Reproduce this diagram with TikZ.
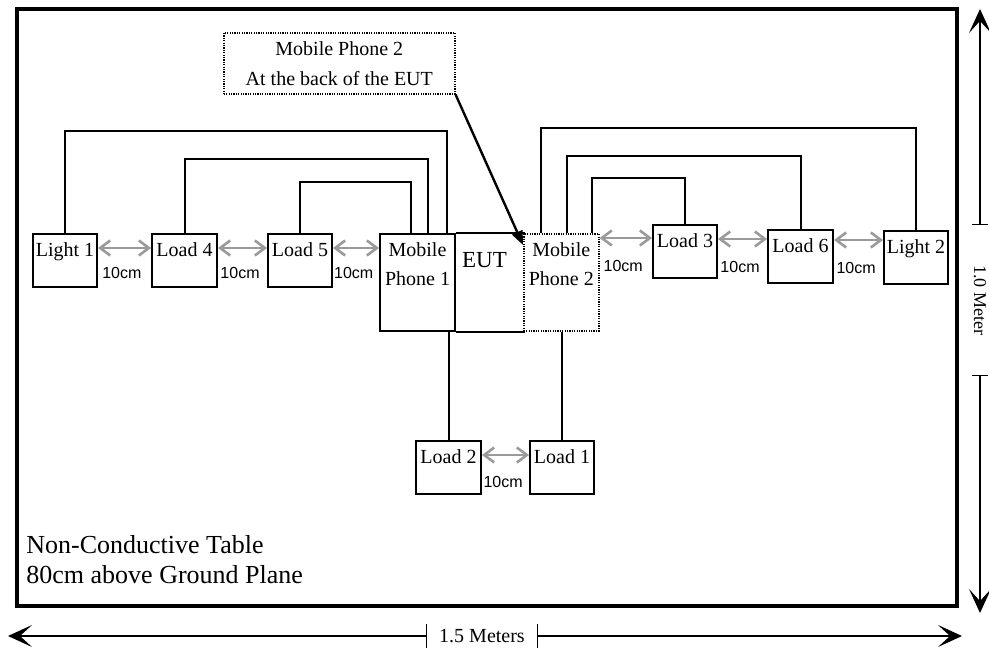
\documentclass[tikz,border=0pt]{standalone}
\usepackage{fontspec}
\setmainfont{Liberation Serif}
\setsansfont{Liberation Sans}
\usetikzlibrary{arrows.meta}
\definecolor{grisFlecha}{HTML}{9A9A9A}
\definecolor{negroLinea}{HTML}{000000}
\tikzset{
  cajaBase/.style={
    draw=negroLinea, line width=1pt, anchor=north west, inner sep=0pt,
    minimum width=32pt, minimum height=26.5pt
  },
  cajaPunteada/.style={cajaBase, fill=white, line width=0.8pt,
    dash pattern=on 0.6pt off 0.6pt},
  etiquetaCaja/.style={anchor=north, inner sep=0pt, yshift=-4.5pt,
    align=center, font=\fontsize{10}{14.5}\selectfont},
  cable/.style={line width=1pt, negroLinea},
  flechaGris/.style={{Straight Barb[length=5pt,width=7.5pt]}-{Straight Barb[length=5pt,width=7.5pt]},
    line width=1.3pt, grisFlecha},
  distancia/.style={font=\sffamily\fontsize{8}{9}\selectfont, inner sep=0pt,
    pos=0.45, text=negroLinea},
  flechaNota/.style={-{Triangle[length=7pt,width=5.5pt]}, line width=1.2pt},
  marco/.style={draw, line width=2pt, anchor=north west, inner sep=0pt},
  cotaTexto/.style={inner sep=0pt, font=\fontsize{10}{12}\selectfont},
  cota/.style={line width=0.8pt},
  flechaCota/.style={-{Stealth[length=12pt,width=11pt,inset=6pt]}, line width=0.8pt}
}
\begin{document}
\begin{tikzpicture}[x=0.5pt, y=-0.5pt]
  \useasboundingbox (0,0) rectangle (989,652);
  % mesa
  \node[marco, minimum width=470pt, minimum height=298.5pt] (mesa) at (15,7) {};
  \node[anchor=base west, inner sep=0pt, align=left,
        font=\fontsize{13}{15}\selectfont] (textoMesa) at (26,583)
        {Non-Conductive Table\\80cm above Ground Plane};
  % cajas
  \node[cajaBase, label={[etiquetaCaja]north:Light 1}] (luz1) at (32,233) {};
  \node[cajaBase, minimum width=32.5pt, label={[etiquetaCaja]north:Load 4}] (carga4) at (151,233) {};
  \node[cajaBase, label={[etiquetaCaja]north:Load 5}] (carga5) at (267,233) {};
  \node[cajaBase, minimum width=37.5pt, minimum height=48.5pt,
        label={[etiquetaCaja]north:{Mobile\\Phone 1}}] (movil1) at (379,233) {};
  \node[cajaBase, draw=none, minimum width=34.5pt, minimum height=48.5pt,
        label={[etiquetaCaja, yshift=-5pt, xshift=-2.5pt, font=\fontsize{11.5}{13}\selectfont]north:EUT}] (eut) at (454,233) {};
  \draw[cable] (movil1.north east) -- (eut.north east);
  \draw[cable] (movil1.south east) -- (eut.south east);
  \node[cajaPunteada, minimum width=37.5pt, minimum height=48.5pt,
        label={[etiquetaCaja]north:{Mobile\\Phone 2}}] (movil2) at (523,233) {};
  \node[cajaBase, minimum height=26.5pt, label={[etiquetaCaja]north:Load 3}] (carga3) at (652,224) {};
  \node[cajaBase, minimum width=32.5pt, label={[etiquetaCaja]north:Load 6}] (carga6) at (767,229) {};
  \node[cajaBase, label={[etiquetaCaja]north:Light 2}] (luz2) at (883,230) {};
  \node[cajaBase, minimum width=32.5pt, label={[etiquetaCaja]north:Load 2}] (carga2) at (415,440) {};
  \node[cajaBase, label={[etiquetaCaja]north:Load 1}] (carga1) at (529,440) {};
  % nota
  \node[cajaPunteada, minimum width=115.5pt, minimum height=30.5pt, align=center,
        font=\fontsize{10}{15}\selectfont] (nota) at (223,32)
        {Mobile Phone 2\\At the back of the EUT};
  \draw[flechaNota] (nota.south east) -- ([yshift=-6pt]movil2.north west);
  % cables
  \draw[cable] (luz1.north) -- ++(0,-102) -| ([xshift=14.75pt]movil1.north);
  \draw[cable] (carga4.north) -- ++(0,-74) -| ([xshift=5.25pt]movil1.north);
  \draw[cable] (carga5.north) -- ++(0,-51) -| ([xshift=-3.25pt]movil1.north);
  \draw[cable] (luz2.north) -- ++(0,-102) -| ([xshift=-10.25pt]movil2.north);
  \draw[cable] (carga6.north) -- ++(0,-73) -| ([xshift=2.75pt]movil2.north);
  \draw[cable] (carga3.north) -- ++(0,-46) -| ([xshift=15.25pt]movil2.north);
  \draw[cable] (carga2.north) -- (carga2.north |- movil1.south);
  \draw[cable] (carga1.north) -- (carga1.north |- movil2.south);
  % distancias
  \draw[flechaGris] ([yshift=-7.5pt]luz1.north east) -- node[distancia, below=9pt]{10cm} ([yshift=-7.5pt]carga4.north west);
  \draw[flechaGris] ([yshift=-7.5pt]carga4.north east) -- node[distancia, below=9pt]{10cm} ([yshift=-7.5pt]carga5.north west);
  \draw[flechaGris] ([yshift=-7.5pt]carga5.north east) -- node[distancia, below=9pt]{10cm} ([yshift=-7.5pt]movil1.north west);
  \draw[flechaGris] ([yshift=-2.5pt]movil2.north east) -- node[distancia, below=10.5pt]{10cm} ([yshift=-7pt]carga3.north west);
  \draw[flechaGris] ([yshift=-7.5pt]carga3.north east) -- node[distancia, below=10.5pt]{10cm} ([yshift=-5pt]carga6.north west);
  \draw[flechaGris] ([yshift=-5.5pt]carga6.north east) -- node[distancia, below=10.5pt]{10cm} ([yshift=-5pt]luz2.north west);
  \draw[flechaGris] ([yshift=-7.5pt]carga2.north east) -- node[distancia, below=10pt]{10cm} ([yshift=-7.5pt]carga1.north west);
  % cotas
  \node[cotaTexto, minimum width=55pt, minimum height=11.5pt] (ancho) at (482,636) {1.5 Meters};
  \coordinate (anchoIzq) at (8,636);
  \coordinate (anchoDer) at (962,636);
  \draw[cota] (ancho.north west) -- (ancho.south west);
  \draw[cota] (ancho.north east) -- (ancho.south east);
  \draw[flechaCota] (ancho.west) -- (anchoIzq);
  \draw[flechaCota] (ancho.east) -- (anchoDer);
  \node[cotaTexto, rotate=-90, minimum width=75pt, minimum height=7.5pt,
        font=\fontsize{9}{11}\selectfont] (alto) at (980,300) {1.0 Meter};
  \coordinate (altoArriba) at (980,9);
  \coordinate (altoAbajo) at (980,613);
  \draw[cota] (alto.north west) -- (alto.south west);
  \draw[cota] (alto.north east) -- (alto.south east);
  \draw[flechaCota] (alto.west) -- (altoArriba);
  \draw[flechaCota] (alto.east) -- (altoAbajo);
\end{tikzpicture}
\end{document}
